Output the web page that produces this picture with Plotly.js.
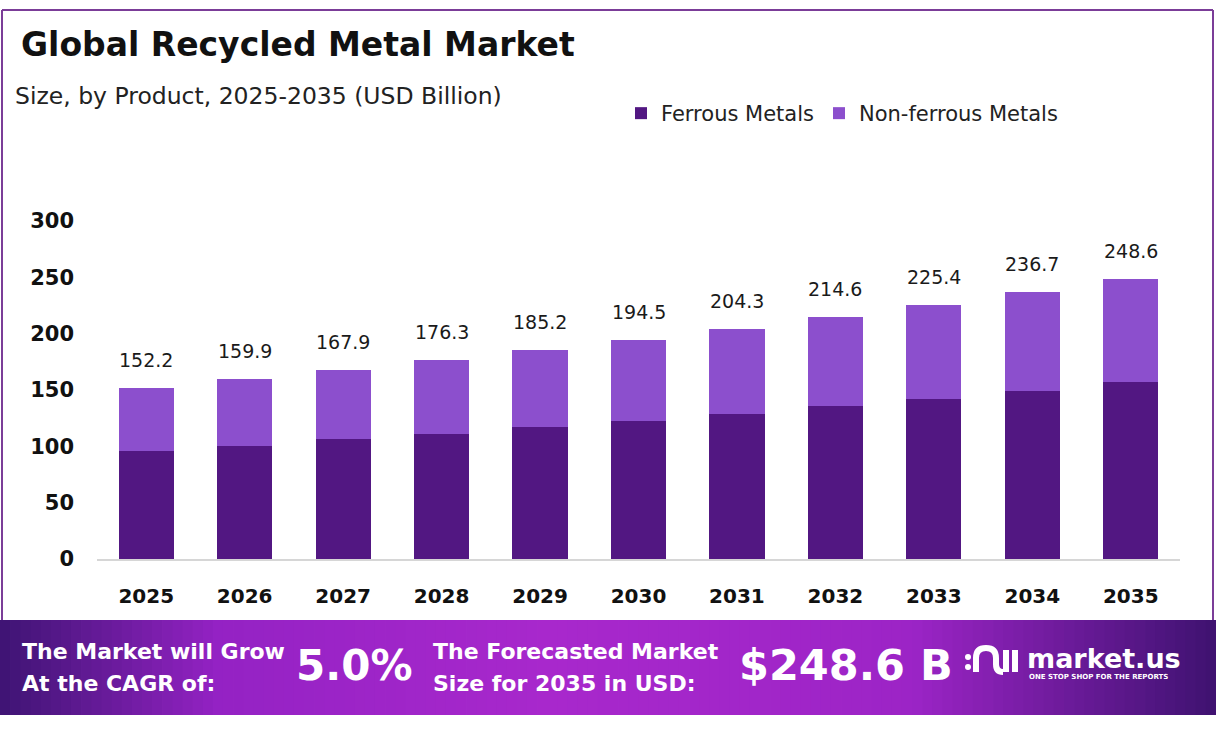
<!DOCTYPE html>
<html>
<head>
<meta charset="utf-8">
<script src="https://cdn.plot.ly/plotly-3.0.1.min.js"></script>
<style>html,body{margin:0;padding:0;background:#fff;}#chart{width:1216px;height:730px;}</style>
</head>
<body>
<div id="chart"></div>
<script>
// ---- data ----
const years = ['2025','2026','2027','2028','2029','2030','2031','2032','2033','2034','2035'];
const ferrous = [96.3,100.5,106.1,111.1,117.3,122.7,129.1,136.2,142.4,149.5,157.0];
const nonFerrous = [55.9,59.4,61.8,65.2,67.9,71.8,75.2,78.4,83.0,87.2,91.6];
const totalLabels = ['152.2','159.9','167.9','176.3','185.2','194.5','204.3','214.6','225.4','236.7','248.6'];
const totals = [152.2,159.9,167.9,176.3,185.2,194.5,204.3,214.6,225.4,236.7,248.6];
const yTicks = [0,50,100,150,200,250,300];

// ---- layout helpers (pixel -> paper) ----
const W = 1216, H = 730;
const M = {l:97, r:36, t:221, b:171};
const PW = W - M.l - M.r, PH = H - M.t - M.b;
const px = p => (p - M.l) / PW;
const py = p => (H - M.b - p) / PH;

const FONT = '"DejaVu Sans", "Open Sans", sans-serif';

const traces = [
  {type:'bar', name:'Ferrous Metals', x:years, y:ferrous, marker:{color:'#521782'}, hoverinfo:'skip'},
  {type:'bar', name:'Non-ferrous Metals', x:years, y:nonFerrous, marker:{color:'#8c4fcd'}, hoverinfo:'skip'}
];

const annotations = [];
years.forEach((yr,i) => {
  // category axis position = category index
  annotations.push({x:i, y:totals[i], xref:'x', yref:'y', text:totalLabels[i], showarrow:false,
    yanchor:'bottom', yshift:15, font:{family:FONT, size:19, color:'#1a1a1a'}});
});
annotations.push({xref:'paper', yref:'paper', x:px(19), y:py(44), xanchor:'left', yanchor:'middle',
  text:'Global Recycled Metal Market', showarrow:false, font:{family:FONT, size:33, color:'#111', weight:700}});
annotations.push({xref:'paper', yref:'paper', x:px(13), y:py(96), xanchor:'left', yanchor:'middle',
  text:'Size, by Product, 2025-2035 (USD Billion)', showarrow:false, font:{family:FONT, size:23.5, color:'#222'}});

// banner texts
const wt = (x,y,t,size,weight,anchor) => annotations.push({xref:'paper', yref:'paper', x:px(x), y:py(y),
  xanchor:anchor||'left', yanchor:'middle', text:t, showarrow:false, font:{family:FONT, size:size, color:'#fff', weight:weight}});
wt(20,651,'The Market will Grow',22,700);
wt(20,683,'At the CAGR of:',22,700);
wt(294,665,'5.0%',42,700);
wt(431,651,'The Forecasted Market',22,700);
wt(431,683,'Size for 2035 in USD:',22,700);
wt(737,665,'$248.6 B',43,700);
wt(1025,658,'market.us',27,700);
wt(1027,677,'ONE STOP SHOP FOR THE REPORTS',7,700);

const shapes = [];
// banner gradient strips
const stops = [[0,[62,20,115]],[0.18,[148,34,196]],[0.45,[168,40,204]],[0.75,[156,36,198]],[1,[62,18,112]]];
function colAt(t){
  for(let k=0;k<stops.length-1;k++){
    const a=stops[k], b=stops[k+1];
    if(t>=a[0] && t<=b[0]){
      const f=(t-a[0])/(b[0]-a[0]);
      const c=a[1].map((v,j)=>Math.round(v+(b[1][j]-v)*f));
      return 'rgb('+c.join(',')+')';
    }
  }
  return 'rgb(62,18,112)';
}
const N = 120;
for(let k=0;k<N;k++){
  const x0 = k*W/N, x1 = (k+1)*W/N + 0.8;
  shapes.push({type:'rect', xref:'paper', yref:'paper', x0:px(x0), x1:px(x1), y0:py(620), y1:py(715),
    line:{width:0}, fillcolor:colAt((k+0.5)/N), layer:'below'});
}
// frame
const frameCol = '#7b3d98';
shapes.push({type:'line', xref:'paper', yref:'paper', x0:px(2), x1:px(1213), y0:py(10), y1:py(10), line:{color:frameCol, width:2}});
shapes.push({type:'line', xref:'paper', yref:'paper', x0:px(2), x1:px(2), y0:py(10), y1:py(620), line:{color:frameCol, width:2}});
shapes.push({type:'line', xref:'paper', yref:'paper', x0:px(1213), x1:px(1213), y0:py(10), y1:py(620), line:{color:frameCol, width:2}});
// logo icon (approximate)
const icon = [
  {type:'circle', x0:965, x1:971, y0:654, y1:660},
  {type:'circle', x0:965, x1:971, y0:664, y1:670},
  {type:'path', path:'M976,672 L976,658 Q976,648 986,648 Q996,648 996,658 L996,664 Q996,672 1003,672'},
  {type:'line', x0:1006, x1:1006, y0:650, y1:672},
  {type:'line', x0:1015, x1:1015, y0:650, y1:672}
];
icon.forEach(s => {
  if(s.type==='circle'){
    shapes.push({type:'circle', xref:'paper', yref:'paper', x0:px(s.x0), x1:px(s.x1), y0:py(s.y1), y1:py(s.y0),
      fillcolor:'#fff', line:{width:0}});
  } else if(s.type==='line'){
    shapes.push({type:'line', xref:'paper', yref:'paper', x0:px(s.x0), x1:px(s.x1), y0:py(s.y0), y1:py(s.y1),
      line:{color:'#fff', width:6}});
  } else {
    const p = s.path.replace(/(-?\d+\.?\d*),(-?\d+\.?\d*)/g, (m,a,b)=> px(+a).toFixed(5)+','+py(+b).toFixed(5));
    shapes.push({type:'path', xref:'paper', yref:'paper', path:p, line:{color:'#fff', width:6}});
  }
});

const layout = {
  width:W, height:H,
  margin:M,
  paper_bgcolor:'#fff', plot_bgcolor:'#fff',
  barmode:'stack', bargap:0.44,
  showlegend:true,
  legend:{orientation:'h', traceorder:'normal', x:px(621), y:py(93), xanchor:'left', yanchor:'top',
    font:{family:FONT, size:21, color:'#222'}, itemwidth:30, bgcolor:'rgba(0,0,0,0)'},
  xaxis:{type:'category', categoryorder:'array', categoryarray:years, range:[-0.5,10.5], autorange:false,
    showline:true, linecolor:'#d6d6d6', linewidth:2, showgrid:false, zeroline:false,
    ticks:'', tickfont:{family:FONT, size:20, color:'#111', weight:700}, ticklabelstandoff:18, fixedrange:true},
  yaxis:{range:[0,300], autorange:false, tickvals:yTicks, showgrid:false, zeroline:false, showline:false, ticks:'',
    tickfont:{family:FONT, size:21, color:'#111', weight:700}, ticklabelstandoff:22, fixedrange:true},
  annotations:annotations,
  shapes:shapes
};

Plotly.newPlot('chart', traces, layout, {displayModeBar:false, staticPlot:true});
</script>
</body>
</html>
